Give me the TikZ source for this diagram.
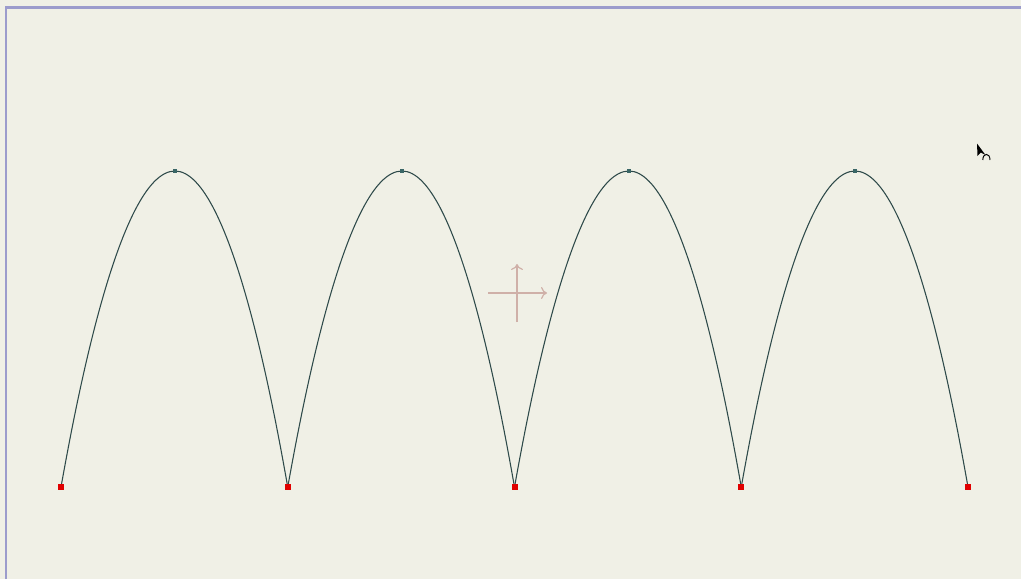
\documentclass[tikz,border=0pt]{standalone}
\usetikzlibrary{arrows.meta}
\definecolor{bgc}{HTML}{F0F0E6}
\definecolor{framec}{HTML}{9C9CCC}
\definecolor{curvec}{HTML}{2E4A4A}
\definecolor{basec}{HTML}{E00000}
\definecolor{peakc}{HTML}{3A6666}
\definecolor{axisc}{HTML}{CFB0A8}
\tikzset{
  basept/.style={draw=none,fill=basec,minimum size=4.5pt,inner sep=0pt},
  peakpt/.style={draw=none,fill=peakc,minimum size=3.5pt,inner sep=0pt},
  arch/.style={draw=curvec,line width=0.8pt},
  axisline/.style={draw=axisc,line width=1.1pt,-{To[length=4.5pt,width=9pt,line width=0.9pt]}},
  framel/.style={draw=framec,line width=2.2pt}
}
\begin{document}
\begin{tikzpicture}[x=0.75pt,y=-0.75pt]
\fill[bgc] (0,0) rectangle (1021,579);
\useasboundingbox (0,0) rectangle (1021,579);
% frame
\coordinate (fa) at (6,579);
\coordinate (fb) at (6,7.5);
\coordinate (fc) at (1021,7.5);
\draw[framel] (fa) -- (fb) -- (fc);
% points
\foreach \i/\x in {0/61,1/287.75,2/514.5,3/741.25,4/968}{
  \coordinate (b\i) at (\x,487);
}
\foreach \i/\x in {1/175,2/402,3/629,4/855}{
  \coordinate (t\i) at (\x,171);
}
% arches
\draw[arch] (b0) parabola bend (t1) (b1);
\draw[arch] (b1) parabola bend (t2) (b2);
\draw[arch] (b2) parabola bend (t3) (b3);
\draw[arch] (b3) parabola bend (t4) (b4);
% markers
\foreach \i in {0,...,4}{ \node[basept] (B\i) at (b\i) {}; }
\foreach \i in {1,...,4}{ \node[peakpt] (T\i) at (t\i) {}; }
% axes cross
\coordinate (o) at (517,293);
\coordinate (xl) at (488,293);
\coordinate (xr) at (547,293);
\coordinate (yb) at (517,322);
\coordinate (yt) at (517,264);
\draw[axisline] (xl) -- (xr);
\draw[axisline] (yb) -- (yt);
% cursor
\coordinate (ct) at (977,143.5);
\fill[black] (ct) -- (977.5,156) -- (980.8,152.5) -- (985.5,155) -- cycle;
\draw[black,line width=0.7pt] (982.8,160) .. controls (982.8,152.5) and (990,152.5) .. (990,160);
\end{tikzpicture}
\end{document}
